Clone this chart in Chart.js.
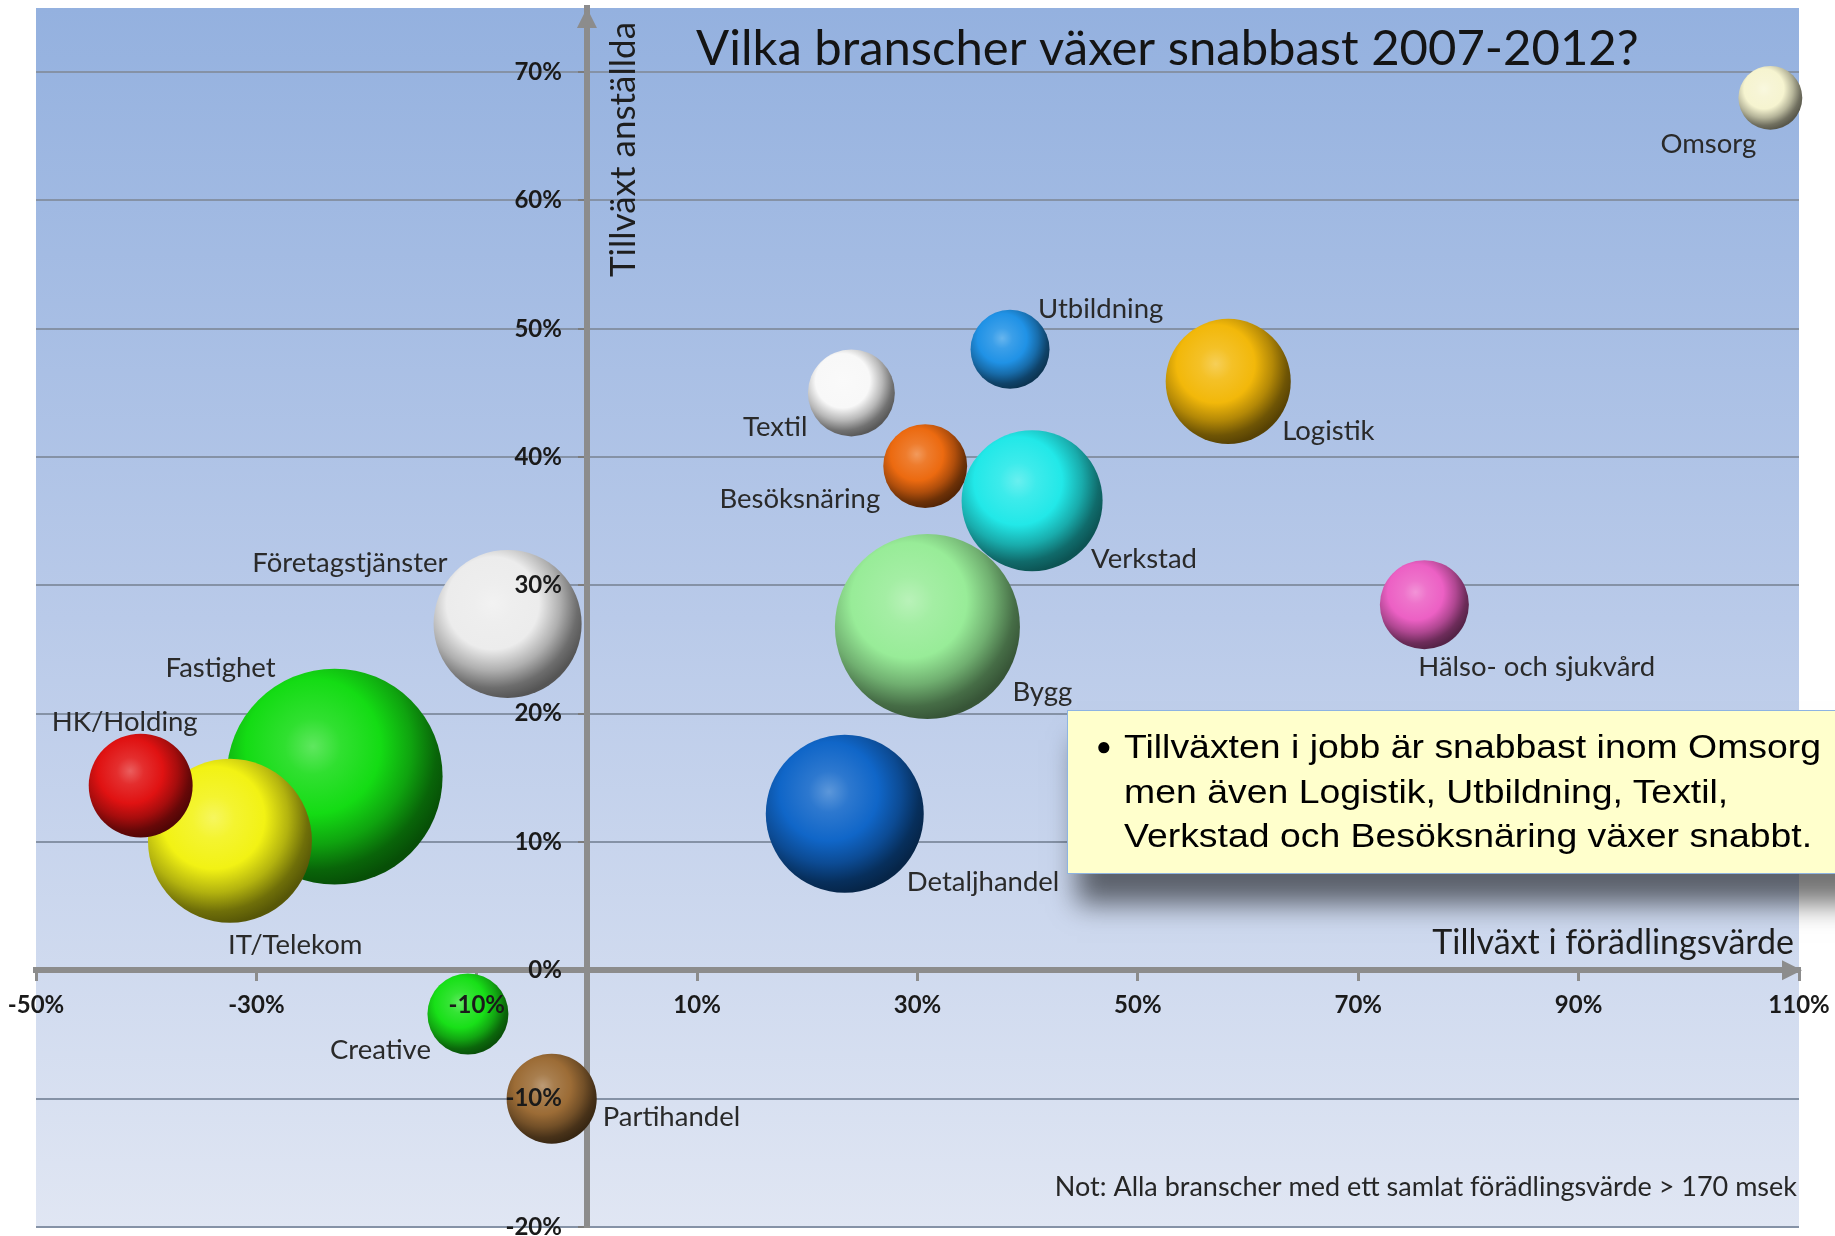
<!DOCTYPE html>
<html lang="sv">
<head>
<meta charset="utf-8">
<title>Vilka branscher växer snabbast 2007-2012?</title>
<script src="https://cdn.jsdelivr.net/npm/chart.js@4.4.1/dist/chart.umd.min.js"></script>
<style>
  html, body { margin: 0; padding: 0; background: #ffffff; overflow: hidden; }
  #wrap { position: relative; width: 1835px; height: 1236px; overflow: hidden; }
  #chart { position: absolute; left: 0; top: 0; }
  #kommentar {
    position: absolute; left: 1067px; top: 710px; width: 820px; height: 164px;
    box-sizing: border-box; background: #ffffcc; border: 1px solid #8db3e2;
    box-shadow: 10px 30px 26px rgba(0, 0, 0, 0.55);
    font-family: "Liberation Sans", Arial, sans-serif; font-size: 34px; line-height: 44.5px;
    color: #000; padding: 13px 0 0 28px; white-space: nowrap;
  }
  #kommentar .punkt { display: inline-block; width: 28px; font-size: 26px; vertical-align: top; }
  #kommentar .rader { display: inline-block; vertical-align: top; transform: scaleX(1.1); transform-origin: 0 0; }
</style>
</head>
<body>
<div id="wrap">
  <canvas id="chart" width="1835" height="1236"></canvas>
  <div id="kommentar"><span class="punkt">&#9679;</span><span class="rader">Tillväxten i jobb är snabbast inom Omsorg<br>men även Logistik, Utbildning, Textil,<br>Verkstad och Besöksnäring växer snabbt.</span></div>
</div>
<script>
// Branscher, tillväxt i förädlingsvärde (x, %), tillväxt anställda (y, %) och storlek (bubblans area)
const branscher = ['Fastighet', 'IT/Telekom', 'HK/Holding', 'Företagstjänster', 'Bygg', 'Verkstad',
  'Detaljhandel', 'Logistik', 'Besöksnäring', 'Textil', 'Utbildning', 'Hälso- och sjukvård',
  'Omsorg', 'Creative', 'Partihandel'];
const tillvaxtForadlingsvarde = [-22.9, -32.4, -40.5, -7.2, 30.9, 40.4, 23.4, 58.2, 30.7, 24.0, 38.4, 76.0, 107.4, -10.8, -3.2];
const tillvaxtAnstallda = [15.1, 10.1, 14.4, 27.0, 26.8, 36.6, 12.2, 45.9, 39.3, 45.0, 48.4, 28.5, 68.0, -3.4, -10.0];
const storlek = [116.6, 67.2, 27.0, 54.8, 85.6, 49.7, 62.4, 39.1, 17.6, 18.9, 15.6, 19.8, 10.2, 16.4, 20.3];

// Tick labels on the two axes (percent)
const xTicks = [-50, -30, -10, 10, 30, 50, 70, 90, 110];
const yTicks = [-20, -10, 0, 10, 20, 30, 40, 50, 60, 70];

// Styling: sphere base colours and label placement (offset from bubble centre, alignment)
const farger = ['#14dc14', '#f2f214', '#e01212', '#ececec', '#98ec98', '#22e8e8',
  '#1066c8', '#f2b80a', '#ec6a10', '#f8f8f8', '#2092e6', '#ec60c4',
  '#f6f4d0', '#18e018', '#9c6c36'];
const etiketter = [
  [-59, -108, 'right'], [-2, 104, 'left'], [-89, -63, 'left'], [-60, -61, 'right'],
  [85, 66, 'left'], [59, 58, 'left'], [62, 68, 'left'], [54, 50, 'left'],
  [-45, 33, 'right'], [-44, 34, 'right'], [28, -40, 'left'], [-6, 62, 'left'],
  [-62, 46, 'center'], [-37, 36, 'right'], [51, 18, 'left']
];

const LABEL_FONT = 'Lato, "Open Sans", sans-serif';

function mix(hex, target, t) {
  const n = parseInt(hex.slice(1), 16);
  const c = [(n >> 16) & 255, (n >> 8) & 255, n & 255];
  const m = c.map(v => Math.round(v + (target - v) * t));
  return `rgb(${m[0]},${m[1]},${m[2]})`;
}

// Shaded sphere fill for each bubble: light from the upper left, shadow towards the lower right
function sphereFill(context) {
  const chart = context.chart;
  const raw = context.raw;
  const base = farger[context.dataIndex];
  if (!raw || !chart.chartArea || !chart.scales.x || !chart.scales.y) return base;
  const cx = chart.scales.x.getPixelForValue(raw.x);
  const cy = chart.scales.y.getPixelForValue(raw.y);
  const r = raw.r;
  if (!isFinite(cx) || !isFinite(cy) || !(r > 0)) return base;
  const lx = cx - 0.2 * r, ly = cy - 0.28 * r;
  const g = chart.ctx.createRadialGradient(lx, ly, 0, lx, ly, 1.3 * r);
  g.addColorStop(0.0, mix(base, 255, 0.32));
  g.addColorStop(0.2, mix(base, 255, 0.12));
  g.addColorStop(0.48, base);
  g.addColorStop(0.7, mix(base, 0, 0.26));
  g.addColorStop(0.88, mix(base, 0, 0.54));
  g.addColorStop(1.0, mix(base, 0, 0.64));
  return g;
}

const points = branscher.map((b, i) => ({
  x: tillvaxtForadlingsvarde[i],
  y: tillvaxtAnstallda[i],
  r: 10 * Math.sqrt(storlek[i])
}));

// Scales sit on the crossing lines, so they must not push the plot area inwards
function noScalePadding(scale) {
  scale.paddingTop = 0;
  scale.paddingBottom = 0;
  scale.paddingLeft = 0;
  scale.paddingRight = 0;
}

// Move the percent labels of the vertical axis clear of its tick marks
function shiftYLabels(scale) {
  if (scale._shifted) return;
  scale._shifted = true;
  const original = scale.drawLabels;
  scale.drawLabels = function (area) {
    const ctx = this.ctx;
    ctx.save();
    ctx.translate(-25, 0);
    original.call(this, area);
    ctx.restore();
  };
}

// Plot area gradient
const bakgrund = {
  id: 'bakgrund',
  beforeDraw(chart) {
    const { ctx, chartArea: a } = chart;
    const g = ctx.createLinearGradient(0, a.top, 0, a.bottom);
    g.addColorStop(0, '#94b1df');
    g.addColorStop(0.5, '#b9cae9');
    g.addColorStop(1, '#e0e6f3');
    ctx.save();
    ctx.fillStyle = g;
    ctx.fillRect(a.left, a.top, a.right - a.left, a.bottom - a.top);
    ctx.restore();
  }
};

// Arrow heads on the crossing axes
const pilar = {
  id: 'pilar',
  beforeDatasetsDraw(chart) {
    const { ctx, chartArea: a, scales } = chart;
    const x0 = scales.x.getPixelForValue(0);
    const y0 = scales.y.getPixelForValue(0);
    ctx.save();
    ctx.fillStyle = '#8c8c8c';
    ctx.beginPath();
    ctx.moveTo(x0, a.top);
    ctx.lineTo(x0 - 10, a.top + 20);
    ctx.lineTo(x0 + 10, a.top + 20);
    ctx.closePath();
    ctx.fill();
    ctx.beginPath();
    ctx.moveTo(a.right + 3, y0);
    ctx.lineTo(a.right - 17, y0 - 10);
    ctx.lineTo(a.right - 17, y0 + 10);
    ctx.closePath();
    ctx.fill();
    ctx.restore();
  }
};

// Industry names beside each bubble
const namn = {
  id: 'namn',
  afterDatasetsDraw(chart) {
    const ctx = chart.ctx;
    const meta = chart.getDatasetMeta(0);
    ctx.save();
    ctx.font = '27.5px ' + LABEL_FONT;
    ctx.fillStyle = '#2a2a2a';
    ctx.textBaseline = 'middle';
    meta.data.forEach((el, i) => {
      const [dx, dy, align] = etiketter[i];
      ctx.textAlign = align;
      ctx.fillText(branscher[i], el.x + dx, el.y + dy);
    });
    ctx.restore();
  }
};

// Heading, axis titles and footnote
const texter = {
  id: 'texter',
  afterDraw(chart) {
    const { ctx, chartArea: a, scales } = chart;
    const x0 = scales.x.getPixelForValue(0);
    const y0 = scales.y.getPixelForValue(0);
    ctx.save();
    ctx.fillStyle = '#141414';
    ctx.textBaseline = 'alphabetic';
    ctx.textAlign = 'left';
    ctx.font = '49px ' + LABEL_FONT;
    ctx.fillText('Vilka branscher växer snabbast 2007-2012?', 696, 65);

    ctx.fillStyle = '#1e1e1e';
    ctx.font = '34px ' + LABEL_FONT;
    ctx.textAlign = 'right';
    ctx.fillText('Tillväxt i förädlingsvärde', a.right - 5, y0 - 16);

    ctx.save();
    ctx.translate(x0 + 48, a.top + 269);
    ctx.rotate(-Math.PI / 2);
    ctx.textAlign = 'left';
    ctx.font = '35px ' + LABEL_FONT;
    ctx.fillText('Tillväxt anställda', 0, 0);
    ctx.restore();

    ctx.font = '27px ' + LABEL_FONT;
    ctx.fillStyle = '#262626';
    ctx.textAlign = 'right';
    ctx.fillText('Not: Alla branscher med ett samlat förädlingsvärde > 170 msek', a.right - 2, 1196);
    ctx.restore();
  }
};

new Chart(document.getElementById('chart'), {
  type: 'bubble',
  data: {
    datasets: [{
      data: points,
      backgroundColor: sphereFill,
      borderWidth: 0,
      clip: false
    }]
  },
  options: {
    responsive: false,
    animation: false,
    devicePixelRatio: 1,
    events: [],
    layout: { autoPadding: false, padding: { left: 36, right: 36, top: 8, bottom: 9 } },
    plugins: { legend: { display: false }, tooltip: { enabled: false } },
    scales: {
      x: {
        type: 'linear', min: -50, max: 110,
        position: { y: 0 },
        afterBuildTicks: s => { s.ticks = xTicks.map(v => ({ value: v })); },
        afterFit: noScalePadding,
        grid: { drawOnChartArea: false, drawTicks: true, tickLength: 8, color: '#8c8c8c', lineWidth: 3 },
        border: { display: true, color: '#8c8c8c', width: 6 },
        ticks: {
          z: 1, autoSkip: false, maxRotation: 0, padding: 12, color: '#1a1a1a',
          font: { family: LABEL_FONT, size: 24, weight: 'bold' },
          callback: v => v + '%'
        }
      },
      y: {
        type: 'linear', min: -20, max: 75,
        position: { x: 0 },
        afterBuildTicks: s => { s.ticks = yTicks.map(v => ({ value: v })); },
        afterFit: s => { noScalePadding(s); shiftYLabels(s); },
        grid: { drawOnChartArea: true, drawTicks: true, tickLength: 6, color: '#8592a6', tickColor: '#7c7c7c', lineWidth: 2 },
        border: { display: true, color: '#8c8c8c', width: 6 },
        ticks: {
          z: 1, autoSkip: false, color: '#1a1a1a',
          font: { family: LABEL_FONT, size: 24, weight: 'bold' },
          callback: v => v + '%'
        }
      }
    }
  },
  plugins: [bakgrund, pilar, namn, texter]
});
</script>
</body>
</html>
